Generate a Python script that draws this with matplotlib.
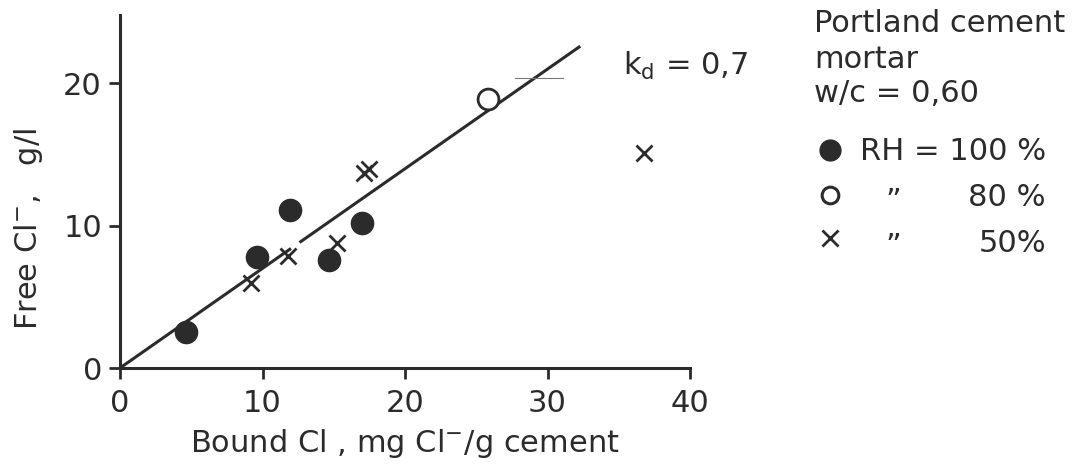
import numpy as np
import matplotlib
matplotlib.use("Agg")
import matplotlib.pyplot as plt
from matplotlib.lines import Line2D

"""Data"""
# RH = 100 %
bound_100 = [4.6, 9.6, 11.9, 14.7, 17.0]
free_100 = [2.5, 7.8, 11.1, 7.6, 10.2]
# RH = 80 %
bound_80 = [25.8]
free_80 = [18.9]
# RH = 50 %
bound_50 = [9.2, 11.8, 15.2, 17.1, 17.5, 36.8]
free_50 = [6.0, 7.9, 8.8, 13.7, 14.0, 15.1]

kd = 0.7
fit_segments = [(0.0, 12.0), (12.6, 32.3)]   # fitted line, broken at the cross

ink = "#2b2b2b"
fs = 22
W, H = 1091, 466

plt.rcParams["font.family"] = ["DejaVu Sans"]
plt.rcParams["mathtext.fontset"] = "dejavusans"

fig = plt.figure(figsize=(W / 100, H / 100), dpi=100)
ax = fig.add_axes([120 / W, 1 - 368 / H, 570 / W, 353 / H])

"""Fit line y = kd * x"""
for x0, x1 in fit_segments:
    xs = np.array([x0, x1])
    ax.plot(xs, kd * xs, color=ink, lw=2.2, solid_capstyle="butt", clip_on=False)
ax.plot([27.7, 31.1], [20.4, 20.4], color="#777777", lw=0.8)

"""Measurements"""
ax.plot(bound_100, free_100, "o", color=ink, ms=16, clip_on=False)
ax.plot(bound_80, free_80, "o", mfc="white", mec=ink, mew=2.0, ms=15, clip_on=False)
ax.plot(bound_50, free_50, "x", color=ink, ms=11, mew=2.0, clip_on=False)

ax.text(35.3, 20.6, "k$_\\mathregular{d}$ = 0,7", fontsize=fs, color=ink,
        va="baseline", ha="left")

"""Axes"""
ax.set_xlim(0, 40)
ax.set_ylim(0, 24.8)
ax.set_xticks([0, 10, 20, 30, 40])
ax.set_yticks([0, 10, 20])
for s in ["top", "right"]:
    ax.spines[s].set_visible(False)
for s in ["left", "bottom"]:
    ax.spines[s].set_linewidth(2.2)
    ax.spines[s].set_color(ink)
ax.tick_params(axis="both", direction="out", length=8, width=2.0, color=ink,
               labelsize=fs, labelcolor=ink)
ax.tick_params(axis="x", pad=7)
ax.tick_params(axis="y", pad=5)
ax.set_xlabel("Bound Cl , mg Cl$^{-}$/g cement", fontsize=fs, color=ink)
ax.set_ylabel("Free Cl$^{-}$,   g/l", fontsize=fs, color=ink)
ax.xaxis.set_label_coords(0.5, -0.238)
ax.yaxis.set_label_coords(-0.161, 0.394)
ax.xaxis.label.set_va("baseline")
ax.yaxis.label.set_va("center")

"""Legend block"""
def ftext(x, y, s, **kw):
    fig.text(x / W, 1 - y / H, s, fontsize=fs, color=ink, va="baseline", **kw)

ftext(814, 32, "Portland cement", ha="left")
ftext(814, 68, "mortar", ha="left")
ftext(814, 102, "w/c = 0,60", ha="left")

fig.add_artist(Line2D([830 / W], [1 - 150 / H], transform=fig.transFigure,
                      marker="o", ms=15, color=ink, ls="none"))
fig.add_artist(Line2D([830 / W], [1 - 195 / H], transform=fig.transFigure,
                      marker="o", ms=12, mfc="white", mec=ink, mew=2.2, ls="none"))
fig.add_artist(Line2D([830 / W], [1 - 238 / H], transform=fig.transFigure,
                      marker="x", ms=11, mew=2.0, color=ink, ls="none"))
ftext(860, 160, "RH = 100 %", ha="left")
ftext(893, 210, "\u201d", ha="center")
ftext(893, 255, "\u201d", ha="center")
ftext(1046, 206, "80 %", ha="right")
ftext(1046, 252, "50%", ha="right")

fig.savefig("out.png", dpi=100)
